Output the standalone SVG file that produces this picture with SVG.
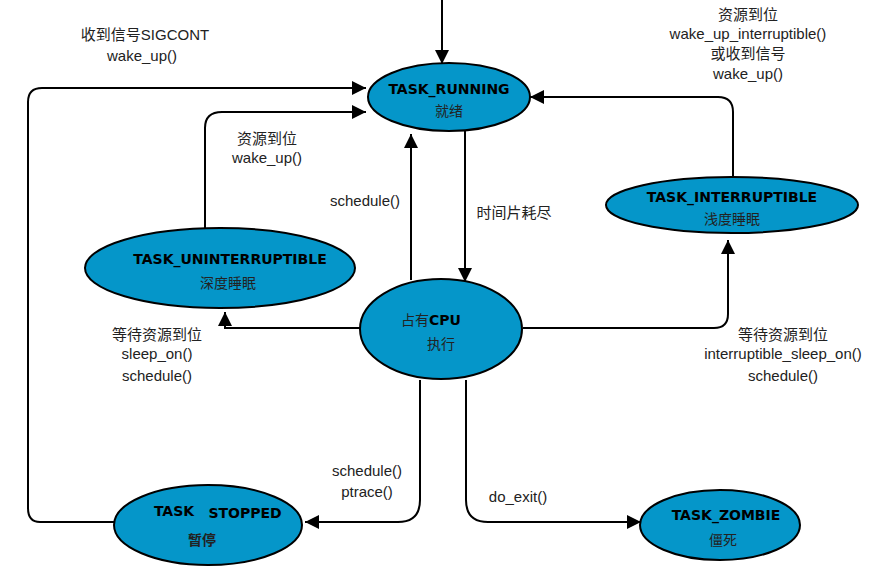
<svg xmlns="http://www.w3.org/2000/svg" width="888" height="588" viewBox="0 0 888 588">
<style>
.n{fill:#0596c9;stroke:#000;stroke-width:2}
.c{fill:none;stroke:#000;stroke-width:2}
.t{font-family:"Liberation Sans","Noto Sans CJK SC",sans-serif;font-size:15px;fill:#222;text-anchor:middle}
.b{font-family:"DejaVu Sans","Noto Sans CJK SC",sans-serif;font-size:14px;font-weight:bold;fill:#000;text-anchor:middle}
.z{font-family:"Noto Sans CJK SC",sans-serif;font-size:14px;fill:#222;text-anchor:middle}
</style>
<defs><marker id="a" viewBox="0 0 10 10" refX="10" refY="5" markerWidth="7" markerHeight="7" orient="auto"><path d="M0,0L10,5L0,10z" fill="#000"/></marker></defs>
<rect width="888" height="588" fill="#fff"/>
<g id="connectors" marker-end="url(#a)">
<path class="c" d="M442,0V64"/>
<path class="c" d="M115,522H40Q28,522 28,508V102Q28,88 42,88H366"/>
<path class="c" d="M205,228V128Q205,112 222,112H366"/>
<path class="c" d="M411,280V134"/>
<path class="c" d="M465,131V282"/>
<path class="c" d="M733,178V112Q733,97 718,97H530"/>
<path class="c" d="M523,328H714Q728,328 728,314V240"/>
<path class="c" d="M360,328H225V312"/>
<path class="c" d="M420,380V500Q420,522 398,522H305"/>
<path class="c" d="M466,380V500Q466,522 488,522H641"/>
</g>
<g id="running"><ellipse class="n" cx="449" cy="97" rx="81" ry="34"/><text class="b" x="449" y="94">TASK_RUNNING</text><text class="z" x="449" y="116">就绪</text></g>
<g id="interruptible"><ellipse class="n" cx="732" cy="205" rx="126" ry="28"/><text class="b" x="732" y="202">TASK_INTERRUPTIBLE</text><text class="z" x="732" y="224">浅度睡眠</text></g>
<g id="uninterruptible"><ellipse class="n" cx="220" cy="268" rx="135" ry="40"/><text class="b" x="230" y="264">TASK_UNINTERRUPTIBLE</text><text class="z" x="228" y="288">深度睡眠</text></g>
<g id="cpu"><ellipse class="n" cx="441" cy="329" rx="81" ry="50"/><text class="z" x="431" y="325">占有<tspan font-weight="bold" font-family="DejaVu Sans" fill="#000">CPU</tspan></text><text class="z" x="441" y="349">执行</text></g>
<g id="stopped"><ellipse class="n" cx="208" cy="525" rx="94" ry="40"/><text class="b" x="174" y="516" font-size="11" font-weight="normal">TASK</text><text class="b" x="245" y="518" font-size="15">STOPPED</text><text class="z" x="202" y="545" font-size="12" font-weight="bold">暂停</text></g>
<g id="zombie"><ellipse class="n" cx="720" cy="525" rx="80" ry="35"/><text class="b" x="726" y="520">TASK_ZOMBIE</text><text class="z" x="723" y="545">僵死</text></g>
<g id="labels">
<text class="t" x="145" y="40">收到信号SIGCONT</text><text class="t" x="142" y="61">wake_up()</text>
<text class="t" x="748" y="20">资源到位</text><text class="t" x="748" y="39">wake_up_interruptible()</text><text class="t" x="748" y="59">或收到信号</text><text class="t" x="748" y="79">wake_up()</text>
<text class="t" x="267" y="144">资源到位</text><text class="t" x="267" y="163">wake_up()</text>
<text class="t" x="365" y="206">schedule()</text>
<text class="t" x="514" y="218">时间片耗尽</text>
<text class="t" x="157" y="340">等待资源到位</text><text class="t" x="157" y="359">sleep_on()</text><text class="t" x="157" y="381">schedule()</text>
<text class="t" x="783" y="340">等待资源到位</text><text class="t" x="783" y="359">interruptible_sleep_on()</text><text class="t" x="783" y="381">schedule()</text>
<text class="t" x="367" y="476">schedule()</text><text class="t" x="367" y="497">ptrace()</text>
<text class="t" x="518" y="502">do_exit()</text>
</g>
</svg>
